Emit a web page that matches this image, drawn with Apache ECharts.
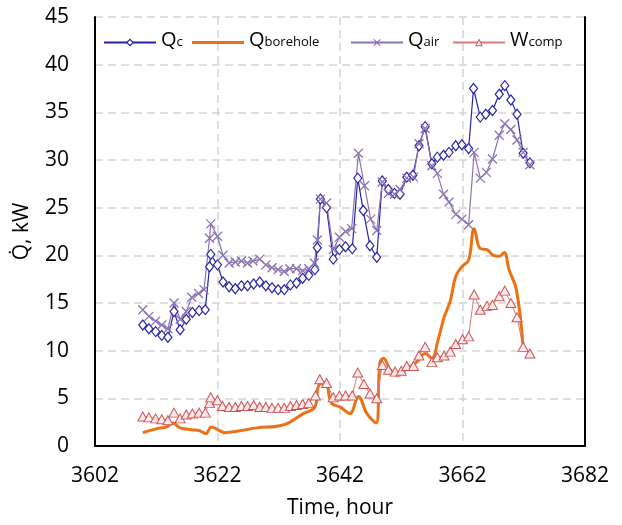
<!DOCTYPE html>
<html>
<head>
<meta charset="utf-8">
<script src="https://cdn.jsdelivr.net/npm/echarts@6/dist/echarts.min.js"></script>
<style>html,body{margin:0;padding:0;background:#fff;}#c{width:622px;height:525px;}</style>
</head>
<body>
<div id="c"></div>
<script>
// Time (hour), value (kW)
const qcData = [[3609.8,12.7],[3610.8,12.3],[3611.9,12.0],[3612.9,11.6],[3613.9,11.4],[3614.9,14.1],[3615.9,12.2],[3616.9,13.3],[3617.9,14.0],[3619,14.2],[3620,14.3],[3620.7,18.8],[3620.9,20.1],[3622,19.0],[3622.9,17.2],[3623.9,16.7],[3624.9,16.5],[3625.9,16.8],[3626.9,16.8],[3627.9,17.0],[3628.9,17.2],[3629.9,16.8],[3630.9,16.6],[3631.9,16.4],[3632.9,16.4],[3633.9,16.9],[3634.9,17.1],[3635.9,17.6],[3636.9,17.9],[3637.9,18.5],[3638.3,20.8],[3638.8,25.9],[3639.8,25.0],[3640.9,19.6],[3641.9,20.6],[3642.9,20.9],[3644,20.7],[3644.9,28.1],[3645.8,24.7],[3646.9,21.0],[3648,19.8],[3648.9,27.8],[3649.9,26.9],[3650.9,26.5],[3651.8,26.4],[3652.9,28.2],[3653.9,28.4],[3654.9,31.5],[3655.9,33.5],[3657,29.6],[3657.9,30.3],[3658.9,30.5],[3659.8,30.8],[3660.9,31.5],[3661.9,31.6],[3663,31.2],[3663.8,37.5],[3664.9,34.5],[3665.8,34.8],[3666.9,35.2],[3668,36.9],[3668.9,37.8],[3669.9,36.3],[3670.9,34.8],[3671.9,30.7],[3673,29.7]];
const qBoreholeData = [[3609.8,1.4],[3612,1.8],[3613.7,2.0],[3614.7,2.4],[3615.9,1.9],[3617.8,1.7],[3619.1,1.6],[3620.1,1.3],[3621,2.0],[3622.1,1.7],[3623.2,1.4],[3625.7,1.6],[3628.4,1.9],[3632.7,2.2],[3636,3.4],[3637.9,4.1],[3638.5,6.3],[3639.6,6.6],[3640.6,4.5],[3642,4.1],[3643.6,3.4],[3645,5.2],[3646.4,3.4],[3647.9,2.4],[3648.5,8.7],[3649.1,9.2],[3650.2,8.0],[3651.3,7.4],[3652.3,7.8],[3653.4,8.3],[3654.5,8.8],[3655.9,9.7],[3657,9.2],[3658,11.1],[3659,13.5],[3660,15.2],[3660.9,17.8],[3661.9,18.8],[3663,19.5],[3663.9,22.8],[3664.9,20.7],[3666,20.6],[3667,20.0],[3668,19.9],[3668.8,20.3],[3669.6,18.5],[3670.8,16.4],[3671.9,10.4]];
const qAirData = [[3609.8,14.3],[3610.8,13.6],[3611.9,13.1],[3612.9,12.7],[3613.9,12.3],[3614.9,15.0],[3615.9,13.3],[3616.9,14.1],[3617.8,15.6],[3618.9,16.0],[3619.8,16.4],[3620.7,21.8],[3620.9,23.3],[3622,22.0],[3622.9,20.0],[3623.9,19.2],[3624.9,19.3],[3625.9,19.4],[3626.9,19.2],[3627.8,19.4],[3628.9,19.6],[3629.9,19.0],[3630.9,18.7],[3631.9,18.5],[3632.9,18.3],[3633.8,18.6],[3634.9,18.6],[3635.9,18.4],[3636.9,18.6],[3637.8,19.2],[3638.3,21.6],[3638.8,25.9],[3639.8,25.5],[3640.9,20.6],[3641.9,21.9],[3642.9,22.5],[3643.9,22.8],[3645,30.7],[3646,27.3],[3647,23.8],[3648,22.6],[3648.9,27.7],[3649.9,26.5],[3650.9,26.4],[3651.8,26.9],[3652.9,28.1],[3654,28.2],[3654.9,31.7],[3655.9,33.3],[3657,29.4],[3657.9,28.6],[3658.9,26.4],[3659.8,25.6],[3660.9,24.3],[3661.9,23.8],[3663,23.2],[3663.9,30.8],[3664.9,28.1],[3665.9,28.7],[3666.9,30.1],[3668,32.6],[3668.9,33.8],[3669.9,33.2],[3670.9,32.1],[3671.9,30.8],[3673,29.5]];
const wCompData = [[3609.8,3.1],[3610.8,3.0],[3611.9,2.9],[3612.9,2.8],[3613.9,2.7],[3614.9,3.5],[3615.9,2.9],[3616.9,3.3],[3617.9,3.4],[3619,3.5],[3620,3.5],[3620.7,4.5],[3620.9,5.1],[3622,4.8],[3622.8,4.2],[3623.9,4.1],[3624.9,4.1],[3625.9,4.2],[3626.9,4.2],[3627.9,4.3],[3628.9,4.1],[3629.9,4.1],[3630.9,4.0],[3631.9,4.0],[3632.9,4.0],[3633.9,4.2],[3634.9,4.3],[3635.9,4.4],[3636.9,4.5],[3638,5.3],[3638.7,7.0],[3639.8,6.6],[3640.9,5.1],[3641.9,5.3],[3642.9,5.3],[3644,5.3],[3644.9,7.7],[3645.9,6.5],[3646.9,5.5],[3648,5.0],[3648.9,8.5],[3649.9,8.0],[3651,7.8],[3652,7.9],[3652.9,8.4],[3654,8.4],[3654.9,9.5],[3655.9,10.4],[3657,8.8],[3657.9,9.3],[3659,9.5],[3660,9.9],[3660.9,10.7],[3662,11.2],[3663,11.5],[3663.9,15.9],[3664.9,14.3],[3666,14.7],[3666.9,14.8],[3668,15.7],[3668.9,16.3],[3669.9,15.0],[3670.9,13.5],[3671.9,10.4],[3673,9.7]];

const seriesNames = ['Qc', 'Qborehole', 'Qair', 'Wcomp'];
const legendLabels = {Qc: ['Q', 'c'], Qborehole: ['Q', 'borehole'], Qair: ['Q', 'air'], Wcomp: ['W', 'comp']};
const xTicks = {min: 3602, max: 3682, step: 20};
const yTicks = {min: 0, max: 45, step: 5};

const FONT = 'Open Sans';
const chart = echarts.init(document.getElementById('c'), null, {renderer: 'canvas'});

const legendLefts = [103, 192, 350, 452];
const legendItemStyles = {
  Qc: {color: '#fff', borderColor: '#2424a8', borderWidth: 1.2},
  Qborehole: {color: '#ec7114'},
  Qair: {color: '#8b72b3', borderColor: '#8b72b3', borderWidth: 1.2},
  Wcomp: {color: '#fbe9e9', borderColor: '#cc5555', borderWidth: 1}
};
const legends = seriesNames.map((n, i) => {
  const item = n === 'Qborehole' ? {name: n, icon: 'rect'} : {name: n};
  return {
    data: [item],
    left: legendLefts[i],
    top: 30,
    padding: 0,
    itemWidth: 52,
    itemHeight: n === 'Qborehole' ? 3 : 8,
    itemStyle: legendItemStyles[n],
    formatter: name => '{m|' + legendLabels[name][0] + '}{s|' + legendLabels[name][1] + '}',
    textStyle: {
      fontFamily: FONT,
      color: '#000',
      rich: {
        m: {fontFamily: FONT, fontSize: 20, color: '#000', padding: [0, 0, 5, 0]},
        s: {fontFamily: FONT, fontSize: 13, color: '#000'}
      }
    }
  };
});

const gridLine = {show: true, lineStyle: {color: '#d4d4d4', width: 1.5, type: [8, 5]}};
const frameLine = {show: true, lineStyle: {color: '#000', width: 2}};

chart.setOption({
  backgroundColor: '#fff',
  animation: false,
  legend: legends,
  grid: {left: 95, right: 37, top: 17, bottom: 79},
  xAxis: [{
    type: 'value', min: xTicks.min, max: xTicks.max, interval: xTicks.step,
    name: 'Time, hour', nameLocation: 'middle', nameGap: 52,
    nameTextStyle: {fontFamily: FONT, fontSize: 21, color: '#000'},
    axisLine: frameLine, axisTick: {show: false},
    axisLabel: {fontFamily: FONT, fontSize: 21, color: '#000', margin: 20, formatter: v => String(v)},
    splitLine: gridLine, z: 3
  }, {
    type: 'value', position: 'top', min: xTicks.min, max: xTicks.max, interval: xTicks.step,
    axisLine: frameLine, axisTick: {show: false}, axisLabel: {show: false}, splitLine: {show: false}, z: 3
  }],
  yAxis: [{
    type: 'value', min: yTicks.min, max: yTicks.max, interval: yTicks.step,
    name: 'Q\u0307, kW', nameLocation: 'middle', nameGap: 62, nameRotate: 90,
    nameTextStyle: {fontFamily: FONT, fontSize: 21, color: '#000'},
    axisLine: frameLine, axisTick: {show: false},
    axisLabel: {fontFamily: FONT, fontSize: 21, color: '#000', margin: 26},
    splitLine: gridLine, z: 3
  }, {
    type: 'value', position: 'right', min: yTicks.min, max: yTicks.max, interval: yTicks.step,
    axisLine: frameLine, axisTick: {show: false}, axisLabel: {show: false}, splitLine: {show: false}, z: 3
  }],
  series: [
    {
      name: 'Qc', type: 'line', data: qcData, color: '#2424a8',
      symbol: 'diamond', symbolSize: [8, 10], showAllSymbol: true,
      lineStyle: {color: '#2424a8', width: 1.2},
      itemStyle: {color: '#fff', borderColor: '#2424a8', borderWidth: 1.2}
    },
    {
      name: 'Qborehole', type: 'line', data: qBoreholeData, color: '#ec7114',
      smooth: 0.4, showSymbol: false, symbol: 'none',
      lineStyle: {color: '#ec7114', width: 3},
      itemStyle: {color: '#ec7114'}
    },
    {
      name: 'Qair', type: 'line', data: qAirData, color: '#8b72b3',
      symbol: 'path://M0 0L10 10M10 0L0 10', symbolSize: 9, showAllSymbol: true,
      lineStyle: {color: '#8b72b3', width: 1.2},
      itemStyle: {color: '#8b72b3', borderColor: '#8b72b3', borderWidth: 1.3}
    },
    {
      name: 'Wcomp', type: 'line', data: wCompData, color: '#d46a6a',
      symbol: 'triangle', symbolSize: [10, 9], showAllSymbol: true,
      lineStyle: {color: '#d97a7a', width: 1},
      itemStyle: {color: '#fbe9e9', borderColor: '#cc5555', borderWidth: 1}
    }
  ]
});
</script>
</body>
</html>
